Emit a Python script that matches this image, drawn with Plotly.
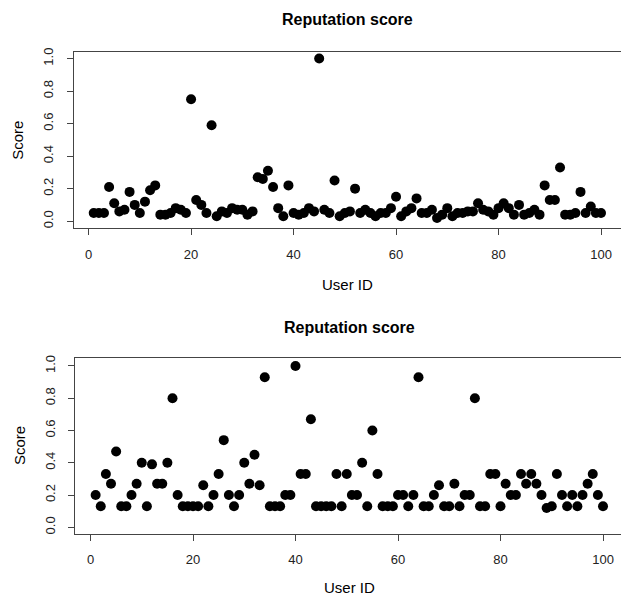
import plotly.graph_objects as go

user_id = list(range(1, 101))

score_top = [0.05, 0.05, 0.05, 0.21, 0.11, 0.06, 0.07, 0.18, 0.10, 0.05,
             0.12, 0.19, 0.22, 0.04, 0.04, 0.05, 0.08, 0.07, 0.05, 0.75,
             0.13, 0.10, 0.05, 0.59, 0.03, 0.06, 0.05, 0.08, 0.07, 0.07,
             0.04, 0.06, 0.27, 0.26, 0.31, 0.21, 0.08, 0.03, 0.22, 0.05,
             0.04, 0.05, 0.08, 0.06, 1.00, 0.07, 0.05, 0.25, 0.03, 0.05,
             0.06, 0.20, 0.05, 0.07, 0.05, 0.03, 0.05, 0.05, 0.08, 0.15,
             0.03, 0.06, 0.08, 0.14, 0.05, 0.05, 0.07, 0.02, 0.04, 0.08,
             0.03, 0.05, 0.05, 0.06, 0.06, 0.11, 0.07, 0.06, 0.04, 0.08,
             0.11, 0.08, 0.04, 0.10, 0.04, 0.05, 0.07, 0.04, 0.22, 0.13,
             0.13, 0.33, 0.04, 0.04, 0.05, 0.18, 0.05, 0.09, 0.05, 0.05]

score_bottom = [0.20, 0.13, 0.33, 0.27, 0.47, 0.13, 0.13, 0.20, 0.27, 0.40,
                0.13, 0.39, 0.27, 0.27, 0.40, 0.80, 0.20, 0.13, 0.13, 0.13,
                0.13, 0.26, 0.13, 0.20, 0.33, 0.54, 0.20, 0.13, 0.20, 0.40,
                0.27, 0.45, 0.26, 0.93, 0.13, 0.13, 0.13, 0.20, 0.20, 1.00,
                0.33, 0.33, 0.67, 0.13, 0.13, 0.13, 0.13, 0.33, 0.13, 0.33,
                0.20, 0.20, 0.40, 0.13, 0.60, 0.33, 0.13, 0.13, 0.13, 0.20,
                0.20, 0.13, 0.20, 0.93, 0.13, 0.13, 0.20, 0.26, 0.13, 0.13,
                0.27, 0.13, 0.20, 0.20, 0.80, 0.13, 0.13, 0.33, 0.33, 0.13,
                0.27, 0.20, 0.20, 0.33, 0.27, 0.33, 0.27, 0.20, 0.12, 0.13,
                0.33, 0.20, 0.13, 0.20, 0.13, 0.20, 0.27, 0.33, 0.20, 0.13]

x_ticks = [0, 20, 40, 60, 80, 100]
y_ticks = [0.0, 0.2, 0.4, 0.6, 0.8, 1.0]
y_tick_text = ["0.0", "0.2", "0.4", "0.6", "0.8", "1.0"]

W, H = 621, 597
FONT = "Liberation Sans, Arial, sans-serif"
LINE = "#444444"

fig = go.Figure()
fig.add_trace(go.Scatter(x=user_id, y=score_top, mode="markers",
                         marker=dict(size=10, color="black"),
                         xaxis="x", yaxis="y", showlegend=False))
fig.add_trace(go.Scatter(x=user_id, y=score_bottom, mode="markers",
                         marker=dict(size=10, color="black"),
                         xaxis="x2", yaxis="y2", showlegend=False))

def xax(domain, rng, anchor):
    return dict(domain=domain, range=rng, anchor=anchor,
                tickvals=x_ticks, ticks="outside", ticklen=6, tickcolor=LINE,
                showline=True, linecolor=LINE, linewidth=1, mirror=True,
                showgrid=False, zeroline=False,
                tickfont=dict(family=FONT, size=13, color="#222222"),
                ticklabelstandoff=8)

def yax(domain, rng, anchor):
    return dict(domain=domain, range=rng, anchor=anchor,
                tickvals=y_ticks, ticktext=y_tick_text, tickangle=-90,
                ticks="outside", ticklen=6, tickcolor=LINE,
                showline=True, linecolor=LINE, linewidth=1, mirror=False,
                showgrid=False, zeroline=False,
                tickfont=dict(family=FONT, size=13, color="#222222"),
                ticklabelstandoff=8)

fig.update_layout(
    width=W, height=H,
    margin=dict(l=0, r=0, t=0, b=0),
    paper_bgcolor="white", plot_bgcolor="white",
    xaxis=xax([73.5 / W, 1.0], [-2.947, 103.9], "y"),
    yaxis=yax([1 - 226 / H, 1 - 48.5 / H], [-0.0427, 1.0396], "x"),
    xaxis2=xax([75.3 / W, 1.0], [-2.966, 103.51], "y2"),
    yaxis2=yax([1 - 534 / H, 1 - 357 / H], [-0.0387, 1.049], "x2"),
)

def ann(text, px, py, size, angle=0):
    fig.add_annotation(text=text, x=px / W, y=1 - py / H, xref="paper", yref="paper",
                       showarrow=False, textangle=angle, xanchor="center", yanchor="middle",
                       font=dict(family=FONT, size=size, color="black"))

ann("<b>Reputation score</b>", 347, 15.5, 16)
ann("<b>Reputation score</b>", 349, 326, 16)
ann("User ID", 347, 283, 15)
ann("User ID", 349, 588, 15)
ann("Score", 17.5, 137.5, 15, -90)
ann("Score", 19.3, 445.5, 15, -90)

fig.write_html(
    "out.html",
    config={"displayModeBar": False},
    post_script="document.body.style.margin='0';document.body.style.padding='0';"
                "document.body.style.overflow='hidden';",
)
